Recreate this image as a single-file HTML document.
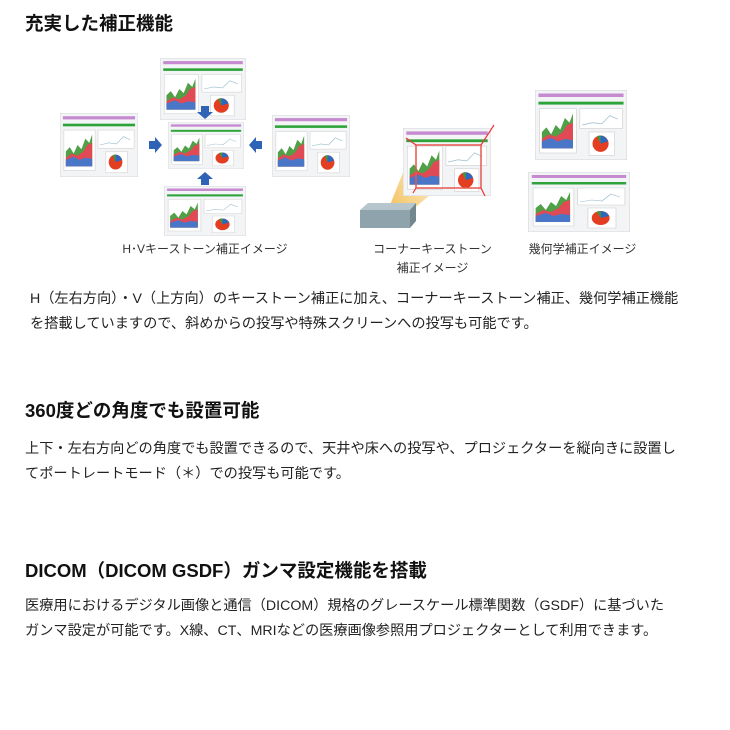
<!DOCTYPE html>
<html><head><meta charset="utf-8"><style>
body{margin:0;width:730px;height:730px;background:#fff;position:relative;font-family:"Liberation Sans","Noto Sans CJK JP",sans-serif;color:#222;overflow:hidden}
h2{position:absolute;margin:0;font-size:18.5px;font-weight:bold;white-space:nowrap;color:#111;line-height:22px}
p{position:absolute;margin:0;font-size:14.2px;line-height:24.5px;white-space:nowrap;color:#222}
.lb{position:absolute;font-size:12px;color:#333;white-space:nowrap;text-align:center}
</style></head><body>
<svg width="0" height="0" style="position:absolute">
<defs>
<g id="scr">
<rect x="0" y="0" width="80" height="60" fill="#f3f4f6" stroke="#d0d3d8" stroke-width="0.8"/>
<rect x="3" y="3" width="74" height="3" fill="#c58ad0"/>
<rect x="3" y="10" width="74" height="2.5" fill="#2ea33a"/>
<rect x="4" y="16" width="32" height="38" fill="#fff" stroke="#ccc" stroke-width="0.5"/>
<path d="M6 50 L6 36 L10 32 L14 38 L18 30 L22 34 L26 24 L30 28 L33 20 L33 50Z" fill="#4fa046"/>
<path d="M6 50 L6 42 L12 38 L18 40 L24 36 L28 30 L33 28 L33 50Z" fill="#e04a55"/>
<path d="M6 50 L6 44 L14 41 L20 44 L26 42 L33 43 L33 50Z" fill="#4a76c8"/>
<rect x="39" y="16" width="37" height="17" fill="#fff" stroke="#ccc" stroke-width="0.5"/>
<path d="M41 30 L50 28 L58 29 L65 22 L72 25" stroke="#9bc" stroke-width="0.6" fill="none"/>
<rect x="47" y="36" width="22" height="20" fill="#fff" stroke="#ccc" stroke-width="0.5"/>
<circle cx="57" cy="46" r="7" fill="#e33d22"/>
<path d="M57 46 L57 39 A7 7 0 0 1 63.5 44Z" fill="#2c68c0"/>
<path d="M57 46 L54 39.6 A7 7 0 0 1 57 39Z" fill="#3a9a40"/>
</g>
<g id="arr"><path d="M0 -4 L6 -4 L6 -8 L13 0 L6 8 L6 4 L0 4Z" fill="#2f63b5"/></g>
<linearGradient id="lg" x1="0" y1="1" x2="1" y2="0"><stop offset="0" stop-color="#f3c260"/><stop offset="1" stop-color="#fff3d8"/></linearGradient>
</defs>
</svg>
<h2 style="left:25px;top:13px">充実した補正機能</h2>

<svg style="position:absolute;left:0;top:0" width="730" height="290">
<svg x="160" y="58" width="86" height="62" viewBox="0 0 80 60" preserveAspectRatio="none"><use href="#scr"/></svg>
<svg x="168" y="122" width="76" height="47" viewBox="0 0 80 60" preserveAspectRatio="none"><use href="#scr"/></svg>
<svg x="60" y="113" width="78" height="64" viewBox="0 0 80 60" preserveAspectRatio="none"><use href="#scr"/></svg>
<svg x="272" y="115" width="78" height="62" viewBox="0 0 80 60" preserveAspectRatio="none"><use href="#scr"/></svg>
<svg x="164" y="186" width="82" height="50" viewBox="0 0 80 60" preserveAspectRatio="none"><use href="#scr"/></svg>
<use href="#arr" transform="translate(149,145)"/>
<use href="#arr" transform="translate(262,145) rotate(180)"/>
<use href="#arr" transform="translate(205,106) rotate(90)"/>
<use href="#arr" transform="translate(205,185) rotate(-90)"/>
<path d="M390 205 L412 150 L430 195 L412 210Z" fill="url(#lg)"/>
<svg x="403" y="128" width="88" height="68" viewBox="0 0 80 60" preserveAspectRatio="none"><use href="#scr"/></svg>
<rect x="416" y="145" width="65" height="43" fill="none" stroke="#e8574e" stroke-width="1.5"/>
<path d="M406 138 L416 145 M494 125 L481 145 M416 188 L413 193 M481 188 L485 196" stroke="#e33" stroke-width="1.2"/>
<rect x="360" y="210" width="50" height="18" fill="#8fa3ac"/>
<path d="M360 210 L368 203 L416 203 L410 210Z" fill="#b7c6cc"/>
<path d="M410 210 L416 203 L416 221 L410 228Z" fill="#74878f"/>
<svg x="535" y="90" width="92" height="70" viewBox="0 0 80 60" preserveAspectRatio="none"><use href="#scr"/></svg>
<svg x="528" y="172" width="102" height="60" viewBox="0 0 80 60" preserveAspectRatio="none"><use href="#scr"/></svg>
</svg>
<div class="lb" style="left:120px;top:240px;width:170px">H･Vキーストーン補正イメージ</div>
<div class="lb" style="left:360px;top:240px;width:145px;line-height:19px">コーナーキーストーン<br>補正イメージ</div>
<div class="lb" style="left:520px;top:240px;width:125px">幾何学補正イメージ</div>

<p style="left:30px;top:287px">H（左右方向）・V（上方向）のキーストーン補正に加え、コーナーキーストーン補正、幾何学補正機能<br>を搭載していますので、斜めからの投写や特殊スクリーンへの投写も可能です。</p>

<h2 style="left:25px;top:400px">360度どの角度でも設置可能</h2>
<p style="left:25px;top:437px">上下・左右方向どの角度でも設置できるので、天井や床への投写や、プロジェクターを縦向きに設置し<br>てポートレートモード（＊）での投写も可能です。</p>

<h2 style="left:25px;top:560px">DICOM（DICOM GSDF）ガンマ設定機能を搭載</h2>
<p style="left:25px;top:594px">医療用におけるデジタル画像と通信（DICOM）規格のグレースケール標準関数（GSDF）に基づいた<br>ガンマ設定が可能です。X線、CT、MRIなどの医療画像参照用プロジェクターとして利用できます。</p>
</body></html>
